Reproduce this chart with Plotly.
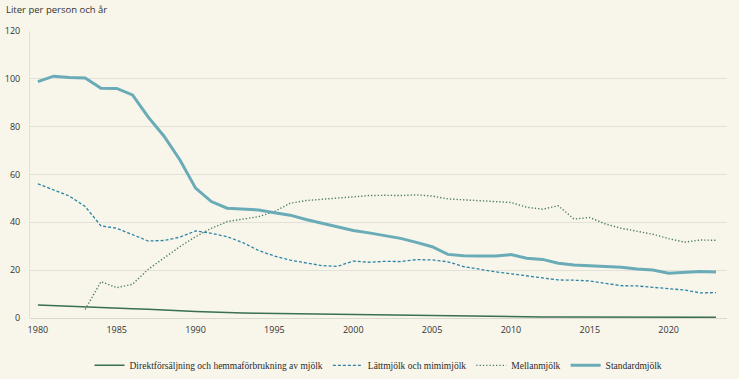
import plotly.graph_objects as go

years = list(range(1980, 2024))

direkt = [5.4, 5.1, 4.8, 4.5, 4.3, 4.1, 3.9, 3.7, 3.2, 3.0,
          2.7, 2.4, 2.2, 2.1, 2.0, 1.9, 1.8, 1.6, 1.5, 1.4,
          1.3, 1.2, 1.1, 1.0, 0.9, 0.8, 0.7, 0.6, 0.6, 0.5,
          0.5, 0.5, 0.4, 0.4, 0.4, 0.4, 0.3, 0.3, 0.3, 0.3,
          0.3, 0.3, 0.3, 0.3]

lattmjolk = [56.1, 53.5, 51.0, 46.6, 38.5, 37.5, 34.7, 32.2, 32.4, 33.8,
             36.4, 35.4, 34.0, 31.5, 28.2, 25.9, 24.2, 22.9, 21.9, 21.6,
             23.8, 23.3, 23.7, 23.6, 24.4, 24.3, 23.5, 21.5, 20.3, 19.3,
             18.5, 17.6, 17.0, 15.9, 15.8, 15.5, 14.5, 13.5, 13.4, 12.8,
             12.1, 11.7, 10.5, 10.6]

mellan_years = list(range(1983, 2024))
mellanmjolk = [3.6, 15.2, 12.7, 14.1, 20.4, 25.0, 29.8, 34.0, 37.5, 40.3,
               41.5, 42.4, 44.5, 48.0, 49.1, 49.6, 49.9, 50.6, 51.2, 51.3,
               51.2, 51.5, 51.0, 49.8, 49.4, 48.8, 48.4, 48.3, 46.3, 45.5,
               46.9, 41.4, 42.0, 39.3, 37.5, 36.4, 35.0, 33.2, 31.7, 32.6,
               32.5]

standard = [98.8, 101.1, 100.6, 100.4, 96.1, 96.0, 93.3, 84.0, 76.0, 66.2,
            54.3, 48.7, 45.9, 45.5, 45.2, 44.0, 43.0, 41.2, 39.7, 38.0,
            36.6, 35.6, 34.6, 33.3, 31.6, 29.8, 26.6, 26.0, 25.9, 25.9,
            26.5, 25.0, 24.5, 22.9, 22.2, 21.9, 21.8, 21.2, 20.5, 20.1,
            18.7, 19.1, 19.4, 19.2]

x_ticks = [1980, 1985, 1990, 1995, 2000, 2005, 2010, 2015, 2020]
y_ticks = [0, 20, 40, 60, 80, 100, 120]

bg = "#F8F6EA"
font_family = "Open Sans"

fig = go.Figure()
fig.add_trace(go.Scatter(x=years, y=direkt, mode="lines",
                         name="Direktförsäljning och hemmaförbrukning av mjölk",
                         line=dict(color="#3A6E55", width=1.5)))
fig.add_trace(go.Scatter(x=years, y=lattmjolk, mode="lines",
                         name="Lättmjölk och mimimjölk",
                         line=dict(color="#2B84A6", width=1.3, dash="3px,2px")))
fig.add_trace(go.Scatter(x=mellan_years, y=mellanmjolk, mode="lines",
                         name="Mellanmjölk",
                         line=dict(color="#4E7D66", width=1.4, dash="1.3px,2px")))
fig.add_trace(go.Scatter(x=years, y=standard, mode="lines",
                         name="Standardmjölk",
                         line=dict(color="#6AABB8", width=3)))

fig.update_layout(
    width=739, height=379,
    paper_bgcolor=bg, plot_bgcolor=bg,
    margin=dict(l=30, r=12, t=31, b=61, autoexpand=False),
    font=dict(family=font_family, size=9, color="#333333"),
    showlegend=True,
    legend=dict(orientation="h", x=0.5, xanchor="center", y=-0.165, yanchor="middle",
                font=dict(family="Liberation Sans Narrow", size=9.5, color="#2A2A2A"),
                bgcolor="rgba(0,0,0,0)", itemwidth=30),
)
fig.add_annotation(text="Liter per person och år", xref="paper", yref="paper",
                   x=-26/697, y=1 + 21/287, xanchor="left", yanchor="middle",
                   showarrow=False, font=dict(size=9.5, color="#333333"))

fig.update_xaxes(range=[1979.5, 2023.7], tickvals=x_ticks, showgrid=False,
                 showline=False, zeroline=False, ticks="", ticklen=0, automargin=False,
                 ticklabelstandoff=5,
                 tickfont=dict(size=9, color="#333333"))
fig.update_yaxes(range=[0, 120], tickvals=y_ticks, showgrid=True, gridcolor="#E2E0D8",
                 gridwidth=1, zeroline=True, zerolinecolor="#DAD8D0", zerolinewidth=1,
                 showline=True, linecolor="#E2E0D8", linewidth=1, automargin=False,
                 ticklabelstandoff=7,
                 ticks="", ticklen=0, tickfont=dict(size=9, color="#333333"))

fig.write_html("out.html", config={"displayModeBar": False},
               post_script="document.body.style.margin='0';document.body.style.overflow='hidden';")
